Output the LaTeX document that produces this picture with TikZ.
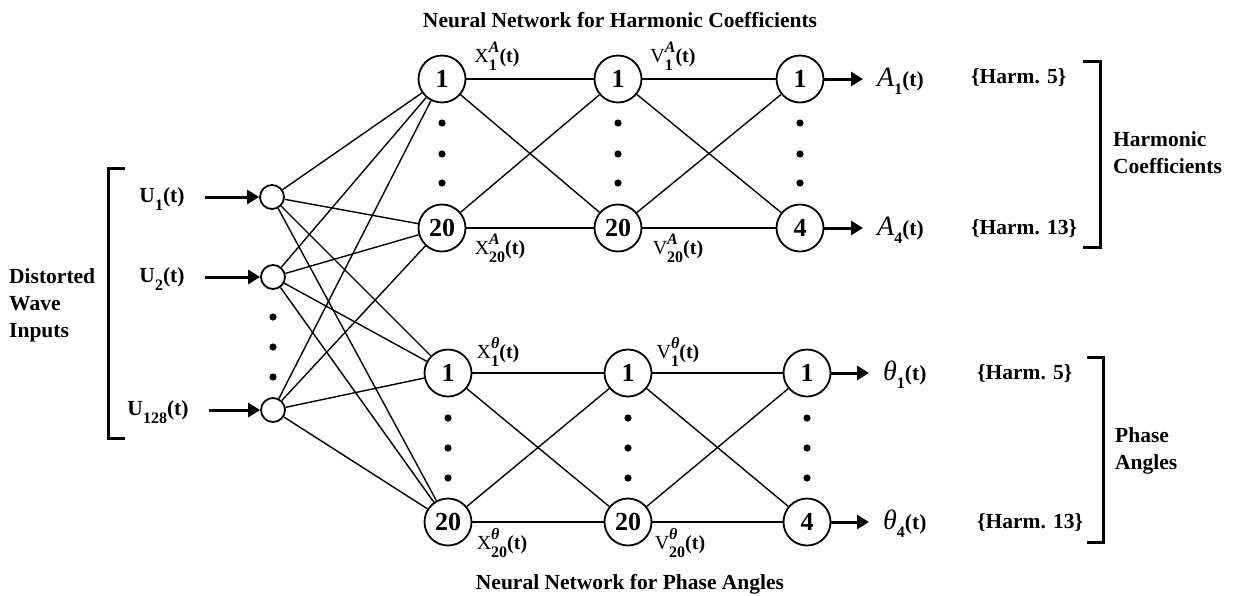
\documentclass[tikz,border=0pt]{standalone}
\usepackage{fontspec}
\setmainfont{Liberation Serif}
\usepackage{tikz}
\usetikzlibrary{arrows.meta,positioning}
\newcommand{\lowidx}[1]{\raisebox{-0.38em}{\fontsize{16}{16}\selectfont\bfseries #1}}
\newcommand{\wsig}[3]{#1\sbox0{\raisebox{0.5em}{\fontsize{16}{16}\selectfont\bfseries\itshape #2}}%
  \sbox2{\lowidx{#3}}\rlap{\usebox0}\usebox2\ifdim\wd0>\wd2\hspace{\dimexpr\wd0-\wd2\relax}\fi\textbf{(t)}}
\newcommand{\uin}[1]{\textbf{U}\lowidx{#1}\textbf{(t)}}
\newcommand{\yout}[2]{{\fontsize{28}{28}\selectfont\mdseries\itshape #1}\lowidx{#2}\textbf{(t)}}

\begin{document}
\begin{tikzpicture}[x=1pt,y=-1pt,
    nrn/.style={circle,draw,line width=1.8pt,minimum size=47pt,inner sep=0pt,
      font=\fontsize{26}{26}\selectfont\bfseries},
    inp/.style={circle,draw,line width=1.8pt,minimum size=24pt,inner sep=0pt},
    txt/.style={font=\fontsize{21.5}{27}\selectfont\bfseries,inner sep=0pt},
    lbl/.style={font=\fontsize{20}{20}\selectfont,inner sep=0pt},
    w/.style={line width=1.4pt},
    brk/.style={line width=3pt},
    a/.style={-{Triangle[length=12pt,width=14pt]},line width=3pt}]
    \useasboundingbox (0,0) rectangle (1236,595);
    % inputs
    \node[inp] (in1) at (272,197) {};
    \node[inp] (in2) at (273,277) {};
    \node[inp] (in3) at (273,410) {};
    \node[txt] (u1) at (162,199) {\uin{1}};
    \node[txt] (u2) at (162,279) {\uin{2}};
    \node[txt] (u3) at (158,412) {\uin{128}};
    \foreach \u/\i in {u1/in1,u2/in2,u3/in3} \draw[a,shorten <=20pt] (\u.east |- \i) -- (\i);
    \draw[brk] (125,168) -- (108,168) -- (108,438) -- (125,438);
    \node[txt,align=left,anchor=west] (dwi) at (9,305) {Distorted\\Wave\\Inputs};
    % network for harmonic coefficients
    \node[nrn] (h1a) at (442,79) {1};
    \node[nrn] (h1b) at (442,228) {20};
    \node[nrn] (h2a) at (618,79) {1};
    \node[nrn] (h2b) at (618,228) {20};
    \node[nrn] (oa) at (800,79) {1};
    \node[nrn] (ob) at (800,228) {4};
    % network for phase angles
    \node[nrn] (p1a) at (448,373) {1};
    \node[nrn] (p1b) at (448,522) {20};
    \node[nrn] (p2a) at (628,373) {1};
    \node[nrn] (p2b) at (628,522) {20};
    \node[nrn] (pa) at (807,373) {1};
    \node[nrn] (pb) at (807,522) {4};
    % dots
    \foreach \x/\y in {273/317,273/347,273/377,
      442/123,442/154,442/183,618/123,618/154,618/183,800/123,800/154,800/183,
      448/418,448/448,448/478,628/418,628/448,628/478,807/418,807/448,807/478}
      \fill (\x,\y) circle (3.6pt);
    % weights
    \foreach \s in {in1,in2,in3} \foreach \d in {h1a,h1b,p1a,p1b} \draw[w] (\s) -- (\d);
    \foreach \s in {h1a,h1b} \foreach \d in {h2a,h2b} \draw[w] (\s) -- (\d);
    \foreach \s in {h2a,h2b} \foreach \d in {oa,ob} \draw[w] (\s) -- (\d);
    \foreach \s in {p1a,p1b} \foreach \d in {p2a,p2b} \draw[w] (\s) -- (\d);
    \foreach \s in {p2a,p2b} \foreach \d in {pa,pb} \draw[w] (\s) -- (\d);
    % layer signals
    \node[lbl] (xa1) at (497,56) {\wsig{X}{A}{1}};
    \node[lbl] (xa20) at (500,248) {\wsig{X}{A}{20}};
    \node[lbl] (va1) at (673,56) {\wsig{V}{A}{1}};
    \node[lbl] (va20) at (678,248) {\wsig{V}{A}{20}};
    \node[lbl] (xt1) at (498,352) {\wsig{X}{θ}{1}};
    \node[lbl] (xt20) at (502,543) {\wsig{X}{θ}{20}};
    \node[lbl] (vt1) at (678,352) {\wsig{V}{θ}{1}};
    \node[lbl] (vt20) at (680,543) {\wsig{V}{θ}{20}};
    % outputs
    \node[txt,anchor=west] (ya1) at (877,81) {\yout{A}{1}};
    \node[txt,anchor=west] (ya4) at (877,230) {\yout{A}{4}};
    \node[txt,anchor=west] (yt1) at (883,375) {\yout{θ}{1}};
    \node[txt,anchor=west] (yt4) at (883,524) {\yout{θ}{4}};
    \foreach \o/\y in {oa/ya1,ob/ya4,pa/yt1,pb/yt4} \draw[a,shorten >=14pt] (\o) -- (\y.west |- \o);
    \node[txt,anchor=west] (ha1) at (971,77) {\{Harm. 5\}};
    \node[txt,anchor=west] (ha4) at (971,228) {\{Harm. 13\}};
    \node[txt,anchor=west] (ht1) at (977,373) {\{Harm. 5\}};
    \node[txt,anchor=west] (ht4) at (977,522) {\{Harm. 13\}};
    \draw[brk] (1083,61) -- (1100,61) -- (1100,247) -- (1083,247);
    \draw[brk] (1087,357) -- (1103,357) -- (1103,542) -- (1087,542);
    \node[txt,align=left,anchor=west] (hc) at (1113,153) {Harmonic\\Coefficients};
    \node[txt,align=left,anchor=west] (pang) at (1115,451) {Phase\\Angles};
    % titles
    \node[txt] (ttop) at (620,20) {Neural Network for Harmonic Coefficients};
    \node[txt] (tbot) at (630,584) {Neural Network for Phase Angles};
\end{tikzpicture}
\end{document}
